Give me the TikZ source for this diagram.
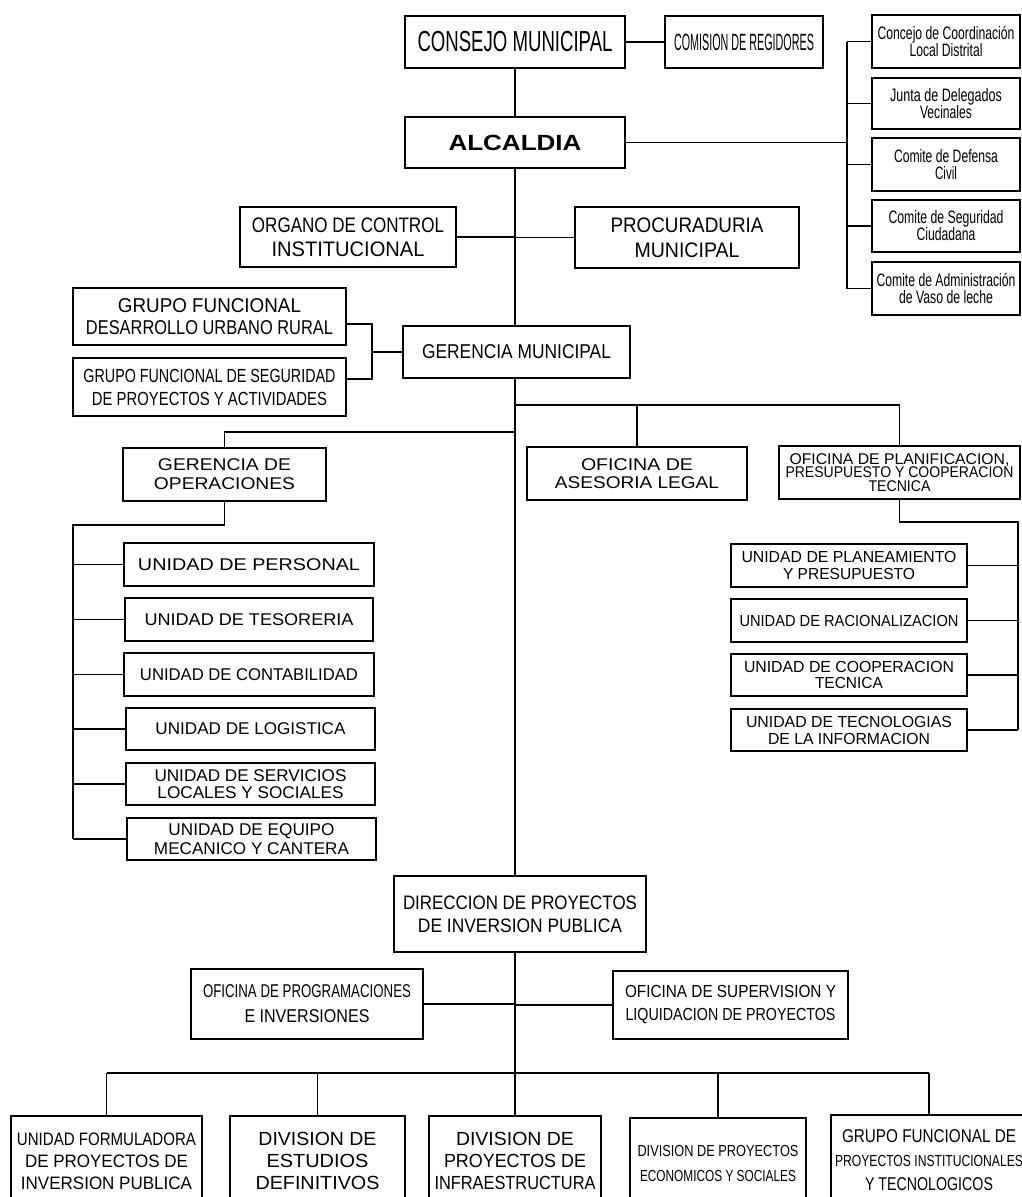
\documentclass[tikz,border=0pt]{standalone}
\usepackage{fontspec}
\setmainfont{Liberation Sans}
\usepackage{graphicx}
\newcommand{\fitw}[2]{\resizebox{#1pt}{\height}{#2}}
\newcommand{\fs}[2]{\fontsize{#1}{#2}\selectfont}
\begin{document}
\begin{tikzpicture}[x=1pt,y=-1pt,
        box/.style={draw, line width=2.4pt, fill=white, inner sep=0pt, outer sep=0pt, align=center},
        sz/.style 2 args={minimum width=#1pt, minimum height=#2pt},
        link/.style={line width=1.8pt}]
    \useasboundingbox (0,0) rectangle (1021,1197);

    % top level
    \node[box, sz={220}{52}, font=\fs{29}{31}] (consejo) at (515,42) {\fitw{195}{CONSEJO MUNICIPAL}};
    \node[box, sz={158}{52}, font=\fs{23.5}{25}] (comision) at (744,42) {\fitw{140}{COMISION DE REGIDORES}};
    \node[box, sz={220}{51}, font=\bfseries\fs{22}{24}] (alcaldia) at (515,142.5) {\fitw{133}{ALCALDIA}};

    % comites
    \node[box, sz={148}{53}, font=\fs{18}{17}] (R1) at (946,41.5) {\fitw{137}{Concejo de Coordinación}\\\fitw{73}{Local Distrital}};
    \node[box, sz={148}{51}, font=\fs{18}{17}] (R2) at (946,103.5) {\fitw{112}{Junta de  Delegados}\\\fitw{52}{Vecinales}};
    \node[box, sz={148}{53}, font=\fs{18}{17}] (R3) at (946,164.5) {\fitw{104}{Comite de Defensa}\\\fitw{22}{Civil}};
    \node[box, sz={148}{52}, font=\fs{18}{17}] (R4) at (946,226) {\fitw{115}{Comite de Seguridad}\\\fitw{59}{Ciudadana}};
    \node[box, sz={148}{53}, font=\fs{18}{17}] (R5) at (946,288.5) {\fitw{139}{Comite de Administración}\\\fitw{94}{de Vaso de leche}};

    \node[box, sz={216}{60}, font=\fs{21}{24}] (organo) at (348,237) {\fitw{192}{ORGANO DE CONTROL}\\\fitw{153}{INSTITUCIONAL}};
    \node[box, sz={224}{61}, font=\fs{21}{25}] (procur) at (687,237.5) {\fitw{153}{PROCURADURIA}\\\fitw{105}{MUNICIPAL}};

    % gerencia
    \node[box, sz={273}{57}, font=\fs{20}{22}] (grupoDU) at (209.5,316.5) {\fitw{183}{GRUPO FUNCIONAL}\\\fitw{247}{DESARROLLO URBANO RURAL}};
    \node[box, sz={273}{58}, font=\fs{19}{23}] (grupoSP) at (209.5,387) {\fitw{252}{GRUPO FUNCIONAL DE SEGURIDAD}\\\fitw{235}{DE PROYECTOS Y ACTIVIDADES}};
    \node[box, sz={227}{52}, font=\fs{20}{22}] (gerMun) at (516.5,352) {\fitw{189}{GERENCIA MUNICIPAL}};

    \node[box, sz={203}{53}, font=\fs{17}{19}] (gerOp) at (224.5,474.5) {\fitw{133}{GERENCIA DE}\\\fitw{141}{OPERACIONES}};
    \node[box, sz={220}{53}, font=\fs{17}{18.5}] (asesoria) at (637,473.5) {\fitw{112}{OFICINA DE}\\\fitw{164}{ASESORIA LEGAL}};
    \node[box, sz={241}{53}, font=\fs{15.5}{13.5}] (planif) at (899.5,472.5) {\fitw{220}{OFICINA DE PLANIFICACION,}\\\fitw{228}{PRESUPUESTO Y COOPERACION}\\\fitw{62}{TECNICA}};

    % unidades de planificacion
    \node[box, sz={236}{43}, font=\fs{16}{17}] (U1) at (849,565.5) {\fitw{215}{UNIDAD DE PLANEAMIENTO}\\\fitw{132}{Y PRESUPUESTO}};
    \node[box, sz={236}{43}, font=\fs{16}{17}] (U2) at (849,620.5) {\fitw{219}{UNIDAD DE RACIONALIZACION}};
    \node[box, sz={236}{42}, font=\fs{16}{16}] (U3) at (849,675) {\fitw{210}{UNIDAD DE COOPERACION}\\\fitw{68}{TECNICA}};
    \node[box, sz={236}{42}, font=\fs{16}{17}] (U4) at (849,730) {\fitw{206}{UNIDAD DE TECNOLOGIAS}\\\fitw{162}{DE LA INFORMACION}};

    % unidades de operaciones
    \node[box, sz={250}{43}, font=\fs{17}{17}] (L1) at (249,564.5) {\fitw{222}{UNIDAD DE PERSONAL}};
    \node[box, sz={248}{43}, font=\fs{17}{17}] (L2) at (249,619.5) {\fitw{209}{UNIDAD DE TESORERIA}};
    \node[box, sz={250}{43}, font=\fs{17}{17}] (L3) at (249,674.5) {\fitw{218}{UNIDAD DE CONTABILIDAD}};
    \node[box, sz={249}{42}, font=\fs{17}{17}] (L4) at (250.5,729) {\fitw{190}{UNIDAD DE LOGISTICA}};
    \node[box, sz={249}{42}, font=\fs{17}{17}] (L5) at (250.5,784) {\fitw{192}{UNIDAD DE SERVICIOS}\\\fitw{186}{LOCALES Y SOCIALES}};
    \node[box, sz={249}{42}, font=\fs{17}{19}] (L6) at (251.5,839) {\fitw{166}{UNIDAD DE EQUIPO}\\\fitw{195}{MECANICO Y CANTERA}};

    % inversion publica
    \node[box, sz={252}{76}, font=\fs{19.5}{23}] (direccion) at (520,914) {\fitw{234}{DIRECCION DE PROYECTOS}\\\fitw{204}{DE INVERSION PUBLICA}};
    \node[box, sz={232}{70}, font=\fs{18.5}{25}] (program) at (307,1004) {\fitw{208}{OFICINA DE PROGRAMACIONES}\\\fitw{125}{E INVERSIONES}};
    \node[box, sz={235}{68}, font=\fs{17.5}{23}] (superv) at (730.5,1005) {\fitw{211}{OFICINA DE SUPERVISION Y}\\\fitw{210}{LIQUIDACION DE PROYECTOS}};

    \node[box, sz={191}{90}, font=\fs{18}{22}] (B1) at (106.5,1161) {\fitw{179}{UNIDAD FORMULADORA}\\\fitw{163}{DE PROYECTOS DE}\\\fitw{171}{INVERSION PUBLICA}};
    \node[box, sz={175}{90}, font=\fs{19}{22}] (B2) at (317.5,1161) {\fitw{118}{DIVISION DE}\\\fitw{102}{ESTUDIOS}\\\fitw{124}{DEFINITIVOS}};
    \node[box, sz={172}{90}, font=\fs{19}{22}] (B3) at (515,1161) {\fitw{118}{DIVISION DE}\\\fitw{142}{PROYECTOS DE}\\\fitw{161}{INFRAESTRUCTURA}};
    \node[box, sz={176}{90}, font=\fs{16}{25}] (B4) at (718,1163) {\fitw{161}{DIVISION DE PROYECTOS}\\\fitw{156}{ECONOMICOS Y SOCIALES}};
    \node[box, sz={196}{90}, font=\fs{18.5}{24}] (B5) at (929,1160) {\fitw{174}{GRUPO FUNCIONAL DE}\\\fitw{188}{\fs{16}{24}PROYECTOS INSTITUCIONALES}\\\fitw{128}{Y TECNOLOGICOS}};

    % connectors
    \coordinate (spine) at (515,0);
    \coordinate (rbus) at (847,0);
    \coordinate (lbus) at (73,0);
    \coordinate (ubus) at (1018,0);
    \coordinate (grp) at (372,0);
    \coordinate (rb) at (515,405);
    \coordinate (lb) at (515,432);
    \coordinate (bb) at (0,1073);

    \draw[link] (consejo.east) -- (comision.west);
    \draw[link] (consejo.south) -- (alcaldia.north);
    \draw[link] (alcaldia.east) -- (alcaldia.east -| rbus);
    \draw[link] (R1.west -| rbus) -- (R5.west -| rbus);
    \foreach \r in {R1,R2,R3,R4,R5}
        \draw[link] (\r.west) -- (\r.west -| rbus);

    \draw[link] (alcaldia.south) -- (gerMun.north -| spine);
    \draw[link] (organo.east) -- (organo.east -| spine);
    \draw[link] (procur.west) -- (procur.west -| spine);

    \draw[link] ([yshift=-7.5pt]grupoDU.east) -- ++(26,0) |- ([yshift=8pt]grupoSP.east);
    \draw[link] (gerMun.west) -- (gerMun.west -| grp);

    \draw[link] (gerMun.south -| spine) -- (direccion.north -| spine);
    \draw[link] (rb) -| (planif.north);
    \draw[link] (asesoria.north) -- (asesoria.north |- rb);
    \draw[link] (lb) -| (gerOp.north);

    \draw[link] (gerOp.south) -- ++(0,24) -| (L6.west -| lbus);
    \foreach \i in {1,...,6}
        \draw[link] (L\i.west) -- (L\i.west -| lbus);

    \draw[link] (planif.south) -- ++(0,23) -| (U4.east -| ubus);
    \foreach \i in {1,...,4}
        \draw[link] (U\i.east) -- (U\i.east -| ubus);

    \draw[link] (program.east) -- (program.east -| spine);
    \draw[link] (superv.west) -- (superv.west -| spine);
    \draw[link] (direccion.south -| spine) -- (B3.north);
    \draw[link] (B1.north |- bb) -- (B5.north |- bb);
    \foreach \b in {B1,B2,B4,B5}
        \draw[link] (\b.north) -- (\b.north |- bb);
\end{tikzpicture}
\end{document}
